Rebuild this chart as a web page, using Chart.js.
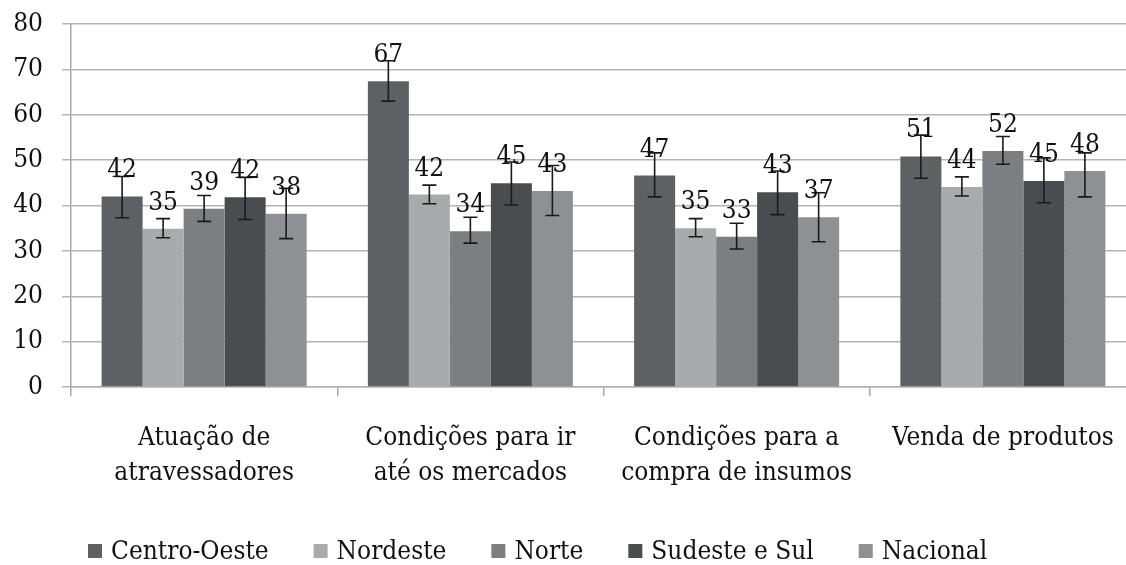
<!DOCTYPE html>
<html>
<head>
<meta charset="utf-8">
<script src="https://cdn.jsdelivr.net/npm/chart.js@4/dist/chart.umd.min.js"></script>
<style>
html,body{margin:0;padding:0;overflow:hidden;background:#fff;width:1126px;height:565px;}
canvas{display:block;}
</style>
</head>
<body>
<canvas id="c" width="1140" height="565"></canvas>
<script>
const categories = [
  ['Atuação de', 'atravessadores'],
  ['Condições para ir', 'até os mercados'],
  ['Condições para a', 'compra de insumos'],
  ['Venda de produtos']
];
const seriesNames = ['Centro-Oeste', 'Nordeste', 'Norte', 'Sudeste e Sul', 'Nacional'];
const seriesColors = ['#5f6064', '#a9aaad', '#7d7e82', '#4b4c50', '#8f9094'];

const centroOeste = [42.0, 67.4, 46.6, 50.8];
const nordeste    = [34.9, 42.4, 35.0, 44.1];
const norte       = [39.3, 34.3, 33.1, 52.0];
const sudesteSul  = [41.8, 44.9, 42.9, 45.4];
const nacional    = [38.2, 43.2, 37.4, 47.6];

const centroOesteLow  = [37.3, 63.0, 41.9, 46.0];
const centroOesteHigh = [46.4, 71.9, 51.6, 55.5];
const nordesteLow     = [32.9, 40.4, 33.1, 42.1];
const nordesteHigh    = [37.1, 44.5, 37.1, 46.3];
const norteLow        = [36.5, 31.7, 30.4, 49.1];
const norteHigh       = [42.2, 37.4, 36.1, 55.2];
const sudesteSulLow   = [36.9, 40.1, 38.0, 40.6];
const sudesteSulHigh  = [46.2, 49.6, 47.6, 50.5];
const nacionalLow     = [32.7, 37.8, 32.0, 41.9];
const nacionalHigh    = [43.8, 48.8, 42.8, 51.6];

const yTicks = [0, 10, 20, 30, 40, 50, 60, 70, 80];

const seriesValues = [centroOeste, nordeste, norte, sudesteSul, nacional];
const seriesLow = [centroOesteLow, nordesteLow, norteLow, sudesteSulLow, nacionalLow];
const seriesHigh = [centroOesteHigh, nordesteHigh, norteHigh, sudesteSulHigh, nacionalHigh];

const FONT = "'DejaVu Serif Condensed', 'DejaVu Serif', serif";
const FSIZE = 26;

const errorBarPlugin = {
  id: 'errorBars',
  afterDatasetsDraw(chart) {
    const ctx = chart.ctx;
    const y = chart.scales.y;
    ctx.save();
    ctx.strokeStyle = '#1a1a1a';
    ctx.lineWidth = 1.6;
    chart.data.datasets.forEach((ds, di) => {
      const meta = chart.getDatasetMeta(di);
      meta.data.forEach((bar, i) => {
        const yl = y.getPixelForValue(ds.errLow[i]);
        const yh = y.getPixelForValue(ds.errHigh[i]);
        const x = bar.x;
        ctx.beginPath();
        ctx.moveTo(x, yl); ctx.lineTo(x, yh);
        ctx.moveTo(x - 7, yl); ctx.lineTo(x + 7, yl);
        ctx.moveTo(x - 7, yh); ctx.lineTo(x + 7, yh);
        ctx.stroke();
      });
    });
    ctx.fillStyle = '#111';
    ctx.font = FSIZE + "px " + FONT;
    ctx.textAlign = 'center';
    ctx.textBaseline = 'alphabetic';
    chart.data.datasets.forEach((ds, di) => {
      const meta = chart.getDatasetMeta(di);
      meta.data.forEach((bar, i) => {
        ctx.fillText(String(Math.round(ds.data[i])), bar.x, bar.y - 19);
      });
    });
    ctx.restore();
  }
};

const legendPlugin = {
  id: 'customLegend',
  afterDraw(chart) {
    const ctx = chart.ctx;
    ctx.save();
    ctx.font = FSIZE + "px " + FONT;
    ctx.textBaseline = 'middle';
    ctx.textAlign = 'left';
    let x = 88;
    const yc = 551;
    chart.data.datasets.forEach((ds) => {
      ctx.fillStyle = ds.backgroundColor;
      ctx.fillRect(x, yc - 7, 14, 14);
      ctx.fillStyle = '#111';
      ctx.fillText(ds.label, x + 23, yc + 1);
      x += 23 + ctx.measureText(ds.label).width + 45;
    });
    ctx.restore();
  }
};

new Chart(document.getElementById('c'), {
  type: 'bar',
  data: {
    labels: categories,
    datasets: seriesNames.map((name, i) => ({
      label: name,
      data: seriesValues[i],
      errLow: seriesLow[i],
      errHigh: seriesHigh[i],
      backgroundColor: seriesColors[i],
      borderWidth: 0,
      categoryPercentage: 0.77,
      barPercentage: 1.0
    }))
  },
  options: {
    responsive: false,
    animation: false,
    layout: { padding: { top: 24, right: 4, left: 0, bottom: 0 } },
    plugins: {
      legend: { display: false },
      tooltip: { enabled: false }
    },
    scales: {
      x: {
        grid: {
          display: true,
          drawOnChartArea: false,
          drawTicks: true,
          tickLength: 9,
          offset: true,
          color: '#a8a8a8',
          lineWidth: 1.5
        },
        border: { display: true, color: '#b0b0b0', width: 1.5 },
        ticks: {
          color: '#111',
          font: { family: FONT, size: FSIZE, lineHeight: 1.33 },
          padding: 25,
          maxRotation: 0,
          autoSkip: false
        },
        afterFit(scale) { scale.height = 178; scale.paddingLeft = 0; scale.paddingRight = 0; }
      },
      y: {
        min: 0,
        max: 80,
        afterBuildTicks(scale) { scale.ticks = yTicks.map(v => ({ value: v })); },
        grid: {
          color: '#b4b4b5',
          lineWidth: 1.5,
          drawTicks: true,
          tickLength: 9
        },
        border: { display: true, color: '#a8a8a8', width: 1.5 },
        ticks: {
          color: '#111',
          font: { family: FONT, size: FSIZE },
          padding: 19
        },
        afterFit(scale) { scale.width = 71; scale.paddingTop = 0; scale.paddingBottom = 0; }
      }
    }
  },
  plugins: [errorBarPlugin, legendPlugin]
});
</script>
</body>
</html>
